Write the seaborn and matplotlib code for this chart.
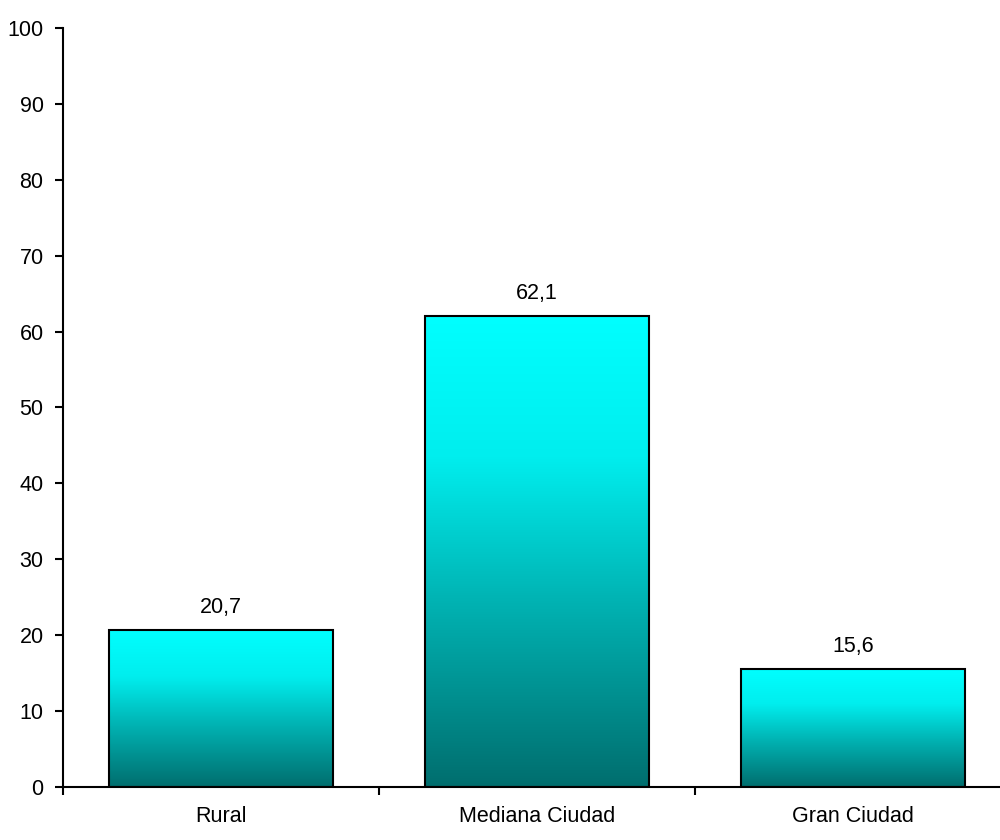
import numpy as np
import pandas as pd
import seaborn as sns
import matplotlib.pyplot as plt
from matplotlib.colors import LinearSegmentedColormap

# datos
categorias = ["Rural", "Mediana Ciudad", "Gran Ciudad"]
valores = [20.7, 62.1, 15.6]
yticks = list(range(0, 101, 10))

sns.set_style("white")
plt.rcParams['font.family'] = ['Liberation Sans', 'DejaVu Sans']
plt.rcParams['text.color'] = 'black'

df = pd.DataFrame({"zona": categorias, "pct": valores})

fig = plt.figure(figsize=(10, 8.4), dpi=100)
ax = fig.add_axes([0.063, 0.0631, 0.948, 0.9036])

sns.barplot(data=df, x="zona", y="pct", width=0.71, color="#00FFFF",
            edgecolor="black", linewidth=1.5, saturation=1, ax=ax)

# degradado cian -> verde azulado dentro de cada barra
cmap = LinearSegmentedColormap.from_list(
    "cian", [(0, "#00FFFF"), (0.3, "#00EEEE"), (0.6, "#00B4B4"), (1, "#006E6E")])
grad = np.linspace(0, 1, 256).reshape(-1, 1)
for p in ax.patches:
    x0, y0, w, h = p.get_x(), p.get_y(), p.get_width(), p.get_height()
    im = ax.imshow(grad, cmap=cmap, aspect="auto", origin="upper",
                   extent=(x0, x0 + w, y0, y0 + h), zorder=p.get_zorder() - 0.1)
    im.set_clip_path(p)
    p.set_facecolor("none")
ax.set_xlim(-0.5, 2.5)
ax.set_ylim(0, 100)

etiquetas = [f"{v:.1f}".replace(".", ",") for v in valores]
ax.bar_label(ax.containers[0], labels=etiquetas, padding=8.5, fontsize=15.5,
             color="black")

ax.set_yticks(yticks)
ax.set_xticks(range(len(categorias)))
ax.set_xticklabels(categorias)
ax.set_xticks([-0.5, 0.5, 1.5, 2.5], minor=True)
ax.set_xlabel("")
ax.set_ylabel("")

for s in ["top", "right"]:
    ax.spines[s].set_visible(False)
for s in ["left", "bottom"]:
    ax.spines[s].set_linewidth(1.5)
    ax.spines[s].set_color("black")

ax.tick_params(axis="y", left=True, direction="out", length=6, width=1.5,
               pad=8, labelsize=15.5, colors="black")
ax.tick_params(axis="x", which="major", bottom=True, length=0, pad=14,
               labelsize=15.5, colors="black")
ax.tick_params(axis="x", which="minor", bottom=True, direction="out",
               length=6, width=1.5, colors="black")

fig.savefig("out.png", dpi=100)
